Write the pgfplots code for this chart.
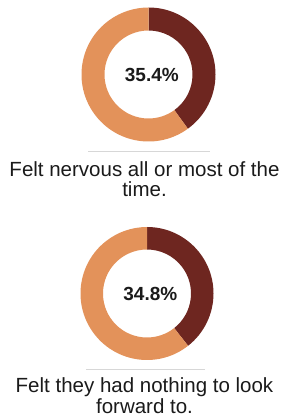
\documentclass[border=0pt]{standalone}
\usepackage{pgfplots}
\pgfplotsset{compat=1.18}
\usepackage{fontspec}
\setmainfont{Liberation Sans}
\definecolor{darkseg}{RGB}{110,38,32}
\definecolor{lightseg}{RGB}{227,146,90}
\definecolor{txt}{RGB}{26,26,26}
\definecolor{rule}{RGB}{215,215,215}
% drawn share of the dark segment (read off the arcs) and printed label
\def\valA{40.0}\def\labA{35.4}
\def\valB{39.4}\def\labB{34.8}
\pgfmathsetmacro\angA{90-3.6*\valA}
\pgfmathsetmacro\angB{90-3.6*\valB}
\newcommand\donutsegs[3]{% end angle, outer radius, inner radius
  \fill[darkseg] ([shift={(90:#2)}]axis cs:0,0) arc[start angle=90,end angle=#1,radius=#2]
    -- ([shift={(#1:#3)}]axis cs:0,0) arc[start angle=#1,end angle=90,radius=#3] -- cycle;
  \fill[lightseg] ([shift={(#1:#2)}]axis cs:0,0) arc[start angle=#1,end angle=-270,radius=#2]
    -- ([shift={(-270:#3)}]axis cs:0,0) arc[start angle=-270,end angle=#1,radius=#3] -- cycle;
}
\begin{document}
\begin{tikzpicture}
\path[use as bounding box] (0,0) rectangle (287pt,420pt);
\begin{axis}[at={(148.5pt,345.5pt)}, anchor=center, width=134pt, height=134pt,
  scale only axis, xmin=-1, xmax=1, ymin=-1, ymax=1, hide axis]
  \donutsegs{\angA}{67pt}{44pt}
  \node[text=txt, font=\fontsize{19}{19}\selectfont\bfseries] at (axis cs:0.05,0) {\labA\%};
\end{axis}
\begin{axis}[at={(147pt,126.5pt)}, anchor=center, width=133pt, height=133pt,
  scale only axis, xmin=-1, xmax=1, ymin=-1, ymax=1, hide axis]
  \donutsegs{\angB}{66.5pt}{44pt}
  \node[text=txt, font=\fontsize{19}{19}\selectfont\bfseries] at (axis cs:0.05,0) {\labB\%};
\end{axis}
\draw[rule, line width=0.8pt] (88pt,268.3pt) -- (210pt,268.3pt);
\draw[rule, line width=0.8pt] (86pt,50.7pt) -- (205pt,50.7pt);
\node[anchor=base, text=txt, font=\fontsize{20.5}{20.5}\selectfont] at (144.5pt,243.3pt) {Felt nervous all or most of the};
\node[anchor=base, text=txt, font=\fontsize{20.5}{20.5}\selectfont] at (144.5pt,223.3pt) {time.};
\node[anchor=base, text=txt, font=\fontsize{20.5}{20.5}\selectfont] at (144.5pt,27.3pt) {Felt they had nothing to look};
\node[anchor=base, text=txt, font=\fontsize{20.5}{20.5}\selectfont] at (144.5pt,6pt) {forward to.};
\end{tikzpicture}
\end{document}
